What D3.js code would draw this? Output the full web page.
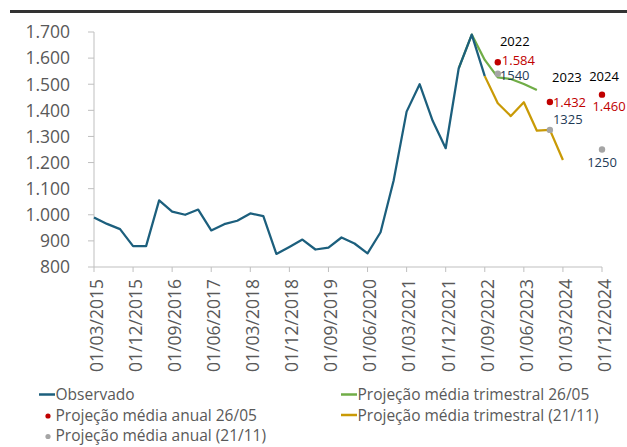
<!DOCTYPE html>
<html>
<head>
<meta charset="utf-8">
<script src="https://cdn.jsdelivr.net/npm/d3@7/dist/d3.min.js"></script>
<style>
  html, body { margin: 0; padding: 0; background: #fff; }
  svg { display: block; font-family: "Open Sans", sans-serif; }
</style>
</head>
<body>
<svg id="chart" width="627" height="447"></svg>
<script>
// quarters 01/03/2015 .. 01/12/2024
const quarters = d3.range(40).map((i) => {
  const m = [3, 6, 9, 12][i % 4];
  const y = 2015 + Math.floor(i / 4);
  return `01/${String(m).padStart(2, "0")}/${y}`;
});

// observado (01/03/2015 .. 01/09/2022)
const observado = [
  990, 965, 945, 880, 880, 1055, 1012, 1000, 1020, 940,
  964, 977, 1005, 995, 850, 877, 905, 867, 874, 913,
  890, 852, 933, 1130, 1395, 1500, 1360, 1255, 1561, 1690, 1531
];

// projeção média trimestral 26/05 (01/03/2022 .. 01/09/2023)
const trimMaio = [1561, 1690, 1593, 1526, 1520, 1501, 1478];
const trimMaioStart = 28;

// projeção média trimestral (21/11) (01/09/2022 .. 01/03/2024)
const trimNov = [1531, 1427, 1378, 1431, 1322, 1325, 1210];
const trimNovStart = 30;

// projeções anuais (posicionadas em dezembro de cada ano)
const anos = ["2022", "2023", "2024"];
const anualIdx = [31, 35, 39];
const anualMaio = [1584, 1432, 1460];
const anualNov = [1540, 1325, 1250];

const yTicks = [800, 900, 1000, 1100, 1200, 1300, 1400, 1500, 1600, 1700];

const C = {
  obs: "#1c5f7d",
  green: "#70ad47",
  gold: "#c99a06",
  red: "#c00000",
  grey: "#a5a5a5",
  label: "#1f3b57",
  axis: "#bfbfbf",
  tick: "#595959"
};

const fmt = d3.formatLocale({ decimal: ",", thousands: ".", grouping: [3], currency: ["R$", ""] }).format(",d");

const svg = d3.select("#chart");

// top rule
svg.append("line")
  .attr("x1", 10).attr("x2", 627).attr("y1", 11.5).attr("y2", 11.5)
  .attr("stroke", "#333").attr("stroke-width", 3);

const x = d3.scalePoint().domain(d3.range(40)).range([94, 602]);
const y = d3.scaleLinear().domain([800, 1700]).range([267, 32]);

// y axis
const gy = svg.append("g");
gy.append("line").attr("x1", 94).attr("x2", 94).attr("y1", y(1700)).attr("y2", y(800))
  .attr("stroke", C.axis).attr("stroke-width", 1);
gy.selectAll(".yt").data(yTicks).enter().append("line")
  .attr("x1", 88).attr("x2", 94).attr("y1", (d) => y(d)).attr("y2", (d) => y(d))
  .attr("stroke", C.axis);
gy.selectAll(".yl").data(yTicks).enter().append("text")
  .attr("x", 70).attr("y", (d) => y(d)).attr("dy", "0.36em")
  .attr("text-anchor", "end").attr("fill", C.tick).style("font-size", "17.5px")
  .text((d) => fmt(d));

// x axis
const xTickIdx = d3.range(0, 40, 3);
const gx = svg.append("g");
gx.append("line").attr("x1", 94).attr("x2", 602).attr("y1", 267).attr("y2", 267)
  .attr("stroke", C.axis);
gx.selectAll(".xt").data(xTickIdx).enter().append("line")
  .attr("x1", (d) => x(d)).attr("x2", (d) => x(d)).attr("y1", 267).attr("y2", 272)
  .attr("stroke", C.axis);
gx.selectAll(".xl").data(xTickIdx).enter().append("text")
  .attr("transform", (d) => `translate(${x(d) + 2.5},279) rotate(-90)`)
  .attr("dy", "0.36em").attr("text-anchor", "end")
  .attr("fill", C.tick).style("font-size", "17.5px")
  .text((d) => quarters[d]);

// lines
const line = d3.line().x((d) => x(d.i)).y((d) => y(d.v));
function series(vals, start) { return vals.map((v, k) => ({ i: start + k, v })); }

svg.append("path").datum(series(trimMaio, trimMaioStart)).attr("d", line)
  .attr("fill", "none").attr("stroke", C.green).attr("stroke-width", 2.25).attr("stroke-linejoin", "round");
svg.append("path").datum(series(observado, 0)).attr("d", line)
  .attr("fill", "none").attr("stroke", C.obs).attr("stroke-width", 2.25).attr("stroke-linejoin", "round");
svg.append("path").datum(series(trimNov, trimNovStart)).attr("d", line)
  .attr("fill", "none").attr("stroke", C.gold).attr("stroke-width", 2.25).attr("stroke-linejoin", "round");

// annual dots
const maioPts = anualIdx.map((i, k) => ({ i, v: anualMaio[k], ano: anos[k] }));
const novPts = anualIdx.map((i, k) => ({ i, v: anualNov[k] }));

svg.selectAll(".dn").data(novPts).enter().append("circle")
  .attr("cx", (d) => x(d.i)).attr("cy", (d) => y(d.v)).attr("r", 3.2).attr("fill", C.grey);
svg.selectAll(".dm").data(maioPts).enter().append("circle")
  .attr("cx", (d) => x(d.i)).attr("cy", (d) => y(d.v)).attr("r", 3.2).attr("fill", C.red);

// label offsets (dx, dy, anchor) per year
const maioLab = [[4, -2, "start"], [3, 0, "start"], [7, 12, "middle"]];
const novLab = [[2, 2, "start"], [3, -11, "start"], [0, 13, "middle"]];
const anoLab = [[17, -21, "middle"], [17, -25, "middle"], [2, -18, "middle"]];

const fs = "13px";
svg.selectAll(".lm").data(maioPts).enter().append("text")
  .attr("x", (d, k) => x(d.i) + maioLab[k][0]).attr("y", (d, k) => y(d.v) + maioLab[k][1])
  .attr("dy", "0.36em").attr("text-anchor", (d, k) => maioLab[k][2])
  .attr("fill", C.red).style("font-size", fs).text((d) => fmt(d.v));
svg.selectAll(".ln").data(novPts).enter().append("text")
  .attr("x", (d, k) => x(d.i) + novLab[k][0]).attr("y", (d, k) => y(d.v) + novLab[k][1])
  .attr("dy", "0.36em").attr("text-anchor", (d, k) => novLab[k][2])
  .attr("fill", C.label).style("font-size", fs).text((d) => String(d.v));
svg.selectAll(".la").data(maioPts).enter().append("text")
  .attr("x", (d, k) => x(d.i) + anoLab[k][0]).attr("y", (d, k) => y(d.v) + anoLab[k][1])
  .attr("dy", "0.36em").attr("text-anchor", (d, k) => anoLab[k][2])
  .attr("fill", "#000").style("font-size", fs).text((d) => d.ano);

// legend
const legendNames = [
  "Observado", "Projeção média trimestral 26/05",
  "Projeção média anual 26/05", "Projeção média trimestral (21/11)",
  "Projeção média anual (21/11)"
];
const legendTypes = ["line", "line", "dot", "line", "dot"];
const legendColors = [C.obs, C.green, C.red, C.gold, C.grey];
const legendPos = [[39, 394.5], [341, 394.5], [39, 415], [341, 415], [39, 435.5]];

const lg = svg.append("g");
legendNames.forEach((name, k) => {
  const [lx, ly] = legendPos[k];
  if (legendTypes[k] === "line") {
    lg.append("line").attr("x1", lx).attr("x2", lx + 16).attr("y1", ly).attr("y2", ly)
      .attr("stroke", legendColors[k]).attr("stroke-width", 2.5);
  } else {
    lg.append("circle").attr("cx", lx + 9).attr("cy", ly + 1).attr("r", 2.6).attr("fill", legendColors[k]);
  }
  lg.append("text").attr("x", lx + 16.5).attr("y", ly).attr("dy", "0.36em")
    .attr("fill", C.tick).style("font-size", "15.5px").text(name);
});
</script>
</body>
</html>
